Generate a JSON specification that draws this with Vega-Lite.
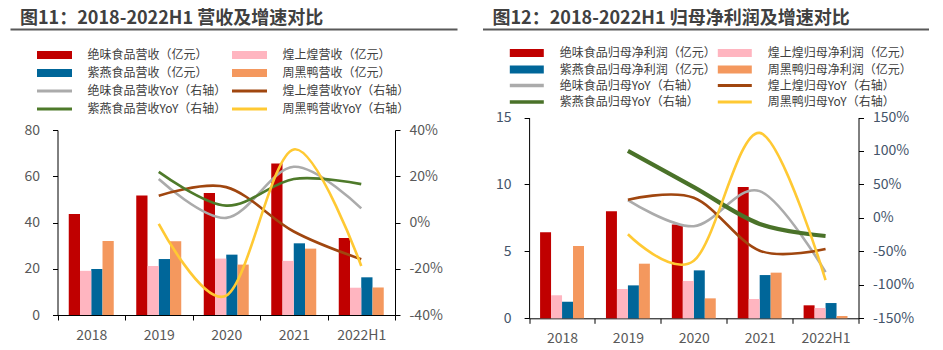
{
  "$schema": "https://vega.github.io/schema/vega-lite/v6.json",
  "padding": {"left": 10, "top": 10, "right": 0, "bottom": 0},
  "background": "white",
  "config": {
    "view": {"stroke": null},
    "font": "Noto Sans CJK SC",
    "axis": {"labelFont": "Noto Sans CJK SC", "labelFontSize": 14, "labelColor": "#595959", "domainColor": "#000000", "tickColor": "#000000", "grid": false, "title": null, "tickSize": 5},
    "legend": {"labelFont": "Noto Sans CJK SC", "labelFontSize": 12, "labelColor": "#404040", "title": null, "padding": 0, "labelLimit": 400, "orient": "none", "columns": 1, "direction": "vertical", "symbolSize": 100, "symbolStrokeWidth": 0, "symbolOffset": 11.5, "labelOffset": 27},
    "title": {"anchor": "start", "frame": "group", "dx": 10, "offset": 1, "fontSize": 18, "fontWeight": "bold", "color": "#404040", "font": "Noto Sans CJK SC"}
  },
  "datasets": {
    "revBars": [
      {"year": "2018", "s": "绝味食品营收（亿元）", "v": 43.7},
      {"year": "2018", "s": "煌上煌营收（亿元）", "v": 19.1},
      {"year": "2018", "s": "紫燕食品营收（亿元）", "v": 19.9},
      {"year": "2018", "s": "周黑鸭营收（亿元）", "v": 32.0},
      {"year": "2019", "s": "绝味食品营收（亿元）", "v": 51.7},
      {"year": "2019", "s": "煌上煌营收（亿元）", "v": 21.2},
      {"year": "2019", "s": "紫燕食品营收（亿元）", "v": 24.2},
      {"year": "2019", "s": "周黑鸭营收（亿元）", "v": 31.9},
      {"year": "2020", "s": "绝味食品营收（亿元）", "v": 52.8},
      {"year": "2020", "s": "煌上煌营收（亿元）", "v": 24.4},
      {"year": "2020", "s": "紫燕食品营收（亿元）", "v": 26.1},
      {"year": "2020", "s": "周黑鸭营收（亿元）", "v": 21.8},
      {"year": "2021", "s": "绝味食品营收（亿元）", "v": 65.5},
      {"year": "2021", "s": "煌上煌营收（亿元）", "v": 23.4},
      {"year": "2021", "s": "紫燕食品营收（亿元）", "v": 31.0},
      {"year": "2021", "s": "周黑鸭营收（亿元）", "v": 28.7},
      {"year": "2022H1", "s": "绝味食品营收（亿元）", "v": 33.3},
      {"year": "2022H1", "s": "煌上煌营收（亿元）", "v": 11.8},
      {"year": "2022H1", "s": "紫燕食品营收（亿元）", "v": 16.3},
      {"year": "2022H1", "s": "周黑鸭营收（亿元）", "v": 11.9}
    ],
    "revLines": [
      {"year": "2019", "s": "绝味食品营收YoY（右轴）", "v": 0.188},
      {"year": "2020", "s": "绝味食品营收YoY（右轴）", "v": 0.020},
      {"year": "2021", "s": "绝味食品营收YoY（右轴）", "v": 0.241},
      {"year": "2022H1", "s": "绝味食品营收YoY（右轴）", "v": 0.061},
      {"year": "2019", "s": "煌上煌营收YoY（右轴）", "v": 0.116},
      {"year": "2020", "s": "煌上煌营收YoY（右轴）", "v": 0.153},
      {"year": "2021", "s": "煌上煌营收YoY（右轴）", "v": -0.039},
      {"year": "2022H1", "s": "煌上煌营收YoY（右轴）", "v": -0.159},
      {"year": "2019", "s": "紫燕食品营收YoY（右轴）", "v": 0.219},
      {"year": "2020", "s": "紫燕食品营收YoY（右轴）", "v": 0.073},
      {"year": "2021", "s": "紫燕食品营收YoY（右轴）", "v": 0.188},
      {"year": "2022H1", "s": "紫燕食品营收YoY（右轴）", "v": 0.166},
      {"year": "2019", "s": "周黑鸭营收YoY（右轴）", "v": -0.006},
      {"year": "2020", "s": "周黑鸭营收YoY（右轴）", "v": -0.316},
      {"year": "2021", "s": "周黑鸭营收YoY（右轴）", "v": 0.316},
      {"year": "2022H1", "s": "周黑鸭营收YoY（右轴）", "v": -0.188}
    ],
    "npBars": [
      {"year": "2018", "s": "绝味食品归母净利润（亿元）", "v": 6.42},
      {"year": "2018", "s": "煌上煌归母净利润（亿元）", "v": 1.72},
      {"year": "2018", "s": "紫燕食品归母净利润（亿元）", "v": 1.24},
      {"year": "2018", "s": "周黑鸭归母净利润（亿元）", "v": 5.40},
      {"year": "2019", "s": "绝味食品归母净利润（亿元）", "v": 7.99},
      {"year": "2019", "s": "煌上煌归母净利润（亿元）", "v": 2.19},
      {"year": "2019", "s": "紫燕食品归母净利润（亿元）", "v": 2.46},
      {"year": "2019", "s": "周黑鸭归母净利润（亿元）", "v": 4.08},
      {"year": "2020", "s": "绝味食品归母净利润（亿元）", "v": 7.01},
      {"year": "2020", "s": "煌上煌归母净利润（亿元）", "v": 2.79},
      {"year": "2020", "s": "紫燕食品归母净利润（亿元）", "v": 3.58},
      {"year": "2020", "s": "周黑鸭归母净利润（亿元）", "v": 1.49},
      {"year": "2021", "s": "绝味食品归母净利润（亿元）", "v": 9.81},
      {"year": "2021", "s": "煌上煌归母净利润（亿元）", "v": 1.44},
      {"year": "2021", "s": "紫燕食品归母净利润（亿元）", "v": 3.23},
      {"year": "2021", "s": "周黑鸭归母净利润（亿元）", "v": 3.41},
      {"year": "2022H1", "s": "绝味食品归母净利润（亿元）", "v": 0.97},
      {"year": "2022H1", "s": "煌上煌归母净利润（亿元）", "v": 0.77},
      {"year": "2022H1", "s": "紫燕食品归母净利润（亿元）", "v": 1.14},
      {"year": "2022H1", "s": "周黑鸭归母净利润（亿元）", "v": 0.17}
    ],
    "npLines": [
      {"year": "2019", "s": "绝味食品归母YoY（右轴）", "v": 0.266},
      {"year": "2020", "s": "绝味食品归母YoY（右轴）", "v": -0.124},
      {"year": "2021", "s": "绝味食品归母YoY（右轴）", "v": 0.40},
      {"year": "2022H1", "s": "绝味食品归母YoY（右轴）", "v": -0.81},
      {"year": "2019", "s": "煌上煌归母YoY（右轴）", "v": 0.27},
      {"year": "2020", "s": "煌上煌归母YoY（右轴）", "v": 0.30},
      {"year": "2021", "s": "煌上煌归母YoY（右轴）", "v": -0.49},
      {"year": "2022H1", "s": "煌上煌归母YoY（右轴）", "v": -0.465},
      {"year": "2019", "s": "紫燕食品归母YoY（右轴）", "v": 1.00},
      {"year": "2020", "s": "紫燕食品归母YoY（右轴）", "v": 0.46},
      {"year": "2021", "s": "紫燕食品归母YoY（右轴）", "v": -0.09},
      {"year": "2022H1", "s": "紫燕食品归母YoY（右轴）", "v": -0.27},
      {"year": "2019", "s": "周黑鸭归母YoY（右轴）", "v": -0.245},
      {"year": "2020", "s": "周黑鸭归母YoY（右轴）", "v": -0.64},
      {"year": "2021", "s": "周黑鸭归母YoY（右轴）", "v": 1.27},
      {"year": "2022H1", "s": "周黑鸭归母YoY（右轴）", "v": -0.93}
    ],
    "rule": [{"u": 0}, {"u": 1}]
  },
  "spacing": 25.5,
  "hconcat": [
    {
      "width": 447,
      "height": 286,
      "title": "图11：2018-2022H1 营收及增速对比",
      "resolve": {"scale": {"x": "independent", "xOffset": "independent", "y": "independent", "color": "independent", "strokeWidth": "independent"}},
      "layer": [
        {
          "data": {"name": "rule"},
          "mark": {"type": "point", "opacity": 0, "size": 0},
          "encoding": {
            "x": {"field": "u", "type": "quantitative", "scale": {"domain": [0, 1]}, "axis": {"orient": "top", "domain": true, "domainColor": "#595959", "domainWidth": 2, "ticks": false, "labels": false, "title": null}}
          }
        },
        {
          "data": {"name": "revBars"},
          "transform": [{"filter": {"field": "s", "oneOf": ["绝味食品营收（亿元）", "紫燕食品营收（亿元）"]}}],
          "mark": {"type": "bar"},
          "encoding": {
            "x": {"field": "year", "type": "nominal", "scale": {"domain": ["2018", "2019", "2020", "2021", "2022H1"], "range": [47.5, 385], "paddingInner": 0, "paddingOuter": 0}, "axis": {"orient": "bottom", "labelAngle": 0, "tickBand": "extent", "labelPadding": 8, "tickSize": 5}},
            "xOffset": {"field": "s", "type": "nominal", "scale": {"domain": ["绝味食品营收（亿元）", "煌上煌营收（亿元）", "紫燕食品营收（亿元）", "周黑鸭营收（亿元）"], "range": [0, 67.5], "paddingInner": 0, "paddingOuter": 1.07}},
            "y": {"field": "v", "type": "quantitative", "scale": {"domain": [0, 80], "range": [286, 101]}, "axis": {"orient": "left", "offset": -47.5, "values": [0, 20, 40, 60, 80], "labelPadding": 13}},
            "color": {"field": "s", "type": "nominal", "scale": {"domain": ["绝味食品营收（亿元）", "紫燕食品营收（亿元）"], "range": ["#C00000", "#006699"]},
              "legend": {"legendX": 27, "legendY": 20, "rowPadding": 6, "symbolType": "M-3.5,-0.8L3.5,-0.8L3.5,0.8L-3.5,0.8Z"}}
          }
        },
        {
          "data": {"name": "revBars"},
          "transform": [{"filter": {"field": "s", "oneOf": ["煌上煌营收（亿元）", "周黑鸭营收（亿元）"]}}],
          "mark": {"type": "bar"},
          "encoding": {
            "x": {"field": "year", "type": "nominal", "scale": {"domain": ["2018", "2019", "2020", "2021", "2022H1"], "range": [47.5, 385], "paddingInner": 0, "paddingOuter": 0}, "axis": null},
            "xOffset": {"field": "s", "type": "nominal", "scale": {"domain": ["绝味食品营收（亿元）", "煌上煌营收（亿元）", "紫燕食品营收（亿元）", "周黑鸭营收（亿元）"], "range": [0, 67.5], "paddingInner": 0, "paddingOuter": 1.07}},
            "y": {"field": "v", "type": "quantitative", "scale": {"domain": [0, 80], "range": [286, 101]}, "axis": null},
            "color": {"field": "s", "type": "nominal", "scale": {"domain": ["煌上煌营收（亿元）", "周黑鸭营收（亿元）"], "range": ["#FFB5C0", "#F4985E"]},
              "legend": {"legendX": 222, "legendY": 20, "rowPadding": 6, "symbolType": "M-3.5,-0.8L3.5,-0.8L3.5,0.8L-3.5,0.8Z"}}
          }
        },
        {
          "data": {"name": "revLines"},
          "transform": [{"filter": {"field": "s", "oneOf": ["绝味食品营收YoY（右轴）", "紫燕食品营收YoY（右轴）"]}}],
          "mark": {"type": "bar"},
          "encoding": {
            "x": {"field": "year", "type": "nominal", "scale": {"domain": ["2018", "2019", "2020", "2021", "2022H1"], "range": [47.5, 385], "paddingInner": 0, "paddingOuter": 0}, "axis": null},
            "y": {"field": "v", "type": "quantitative", "scale": {"domain": [-0.4, 0.4], "range": [286, 101]}, "axis": null},
            "y2": {"field": "v"},
            "color": {"field": "s", "type": "nominal", "scale": {"domain": ["绝味食品营收YoY（右轴）", "紫燕食品营收YoY（右轴）"], "range": ["#ABABAB", "#4E7A2A"]},
              "legend": {"legendX": 27, "legendY": 56, "rowPadding": 6, "symbolType": "M-3.5,-0.28L3.5,-0.28L3.5,0.28L-3.5,0.28Z"}}
          }
        },
        {
          "data": {"name": "revLines"},
          "transform": [{"filter": {"field": "s", "oneOf": ["煌上煌营收YoY（右轴）", "周黑鸭营收YoY（右轴）"]}}],
          "mark": {"type": "bar"},
          "encoding": {
            "x": {"field": "year", "type": "nominal", "scale": {"domain": ["2018", "2019", "2020", "2021", "2022H1"], "range": [47.5, 385], "paddingInner": 0, "paddingOuter": 0}, "axis": null},
            "y": {"field": "v", "type": "quantitative", "scale": {"domain": [-0.4, 0.4], "range": [286, 101]}, "axis": null},
            "y2": {"field": "v"},
            "color": {"field": "s", "type": "nominal", "scale": {"domain": ["煌上煌营收YoY（右轴）", "周黑鸭营收YoY（右轴）"], "range": ["#A0460F", "#FFC933"]},
              "legend": {"legendX": 222, "legendY": 56, "rowPadding": 6, "symbolType": "M-3.5,-0.28L3.5,-0.28L3.5,0.28L-3.5,0.28Z"}}
          }
        },
        {
          "data": {"name": "revLines"},
          "mark": {"type": "line", "interpolate": "cardinal", "strokeWidth": 2.6},
          "encoding": {
            "x": {"field": "year", "type": "nominal", "scale": {"domain": ["2018", "2019", "2020", "2021", "2022H1"], "range": [47.5, 385], "paddingInner": 0, "paddingOuter": 0}, "axis": null},
            "y": {"field": "v", "type": "quantitative", "scale": {"domain": [-0.4, 0.4], "range": [286, 101]}, "axis": {"orient": "right", "offset": -62, "values": [-0.4, -0.2, 0, 0.2, 0.4], "labelPadding": 9, "labelExpr": "(datum.value < -0.0001 ? '-' : '') + format(abs(datum.value), '.0%')"}},
            "color": {"field": "s", "type": "nominal", "scale": {"domain": ["绝味食品营收YoY（右轴）", "煌上煌营收YoY（右轴）", "紫燕食品营收YoY（右轴）", "周黑鸭营收YoY（右轴）"], "range": ["#ABABAB", "#A0460F", "#4E7A2A", "#FFC933"]}, "legend": null}
          }
        }
      ]
    },
    {
      "width": 446.3,
      "height": 289.3,
      "title": "图12：2018-2022H1 归母净利润及增速对比",
      "resolve": {"scale": {"x": "independent", "xOffset": "independent", "y": "independent", "color": "independent", "strokeWidth": "independent"}},
      "layer": [
        {
          "data": {"name": "rule"},
          "mark": {"type": "point", "opacity": 0, "size": 0},
          "encoding": {
            "x": {"field": "u", "type": "quantitative", "scale": {"domain": [0, 1]}, "axis": {"orient": "top", "domain": true, "domainColor": "#595959", "domainWidth": 2, "ticks": false, "labels": false, "title": null}}
          }
        },
        {
          "data": {"name": "npBars"},
          "transform": [{"filter": {"field": "s", "oneOf": ["绝味食品归母净利润（亿元）", "紫燕食品归母净利润（亿元）"]}}],
          "mark": {"type": "bar"},
          "encoding": {
            "x": {"field": "year", "type": "nominal", "scale": {"domain": ["2018", "2019", "2020", "2021", "2022H1"], "range": [46.6, 376], "paddingInner": 0, "paddingOuter": 0}, "axis": {"orient": "bottom", "labelAngle": 0, "tickBand": "extent", "labelPadding": 8, "tickSize": 5}},
            "xOffset": {"field": "s", "type": "nominal", "scale": {"domain": ["绝味食品归母净利润（亿元）", "煌上煌归母净利润（亿元）", "紫燕食品归母净利润（亿元）", "周黑鸭归母净利润（亿元）"], "range": [0, 65.88], "paddingInner": 0, "paddingOuter": 1.09}},
            "y": {"field": "v", "type": "quantitative", "scale": {"domain": [0, 15], "range": [289.3, 88.5]}, "axis": {"orient": "left", "offset": -46.6, "values": [0, 5, 10, 15], "labelPadding": 13, "labelColor": "#44546A"}},
            "color": {"field": "s", "type": "nominal", "scale": {"domain": ["绝味食品归母净利润（亿元）", "紫燕食品归母净利润（亿元）"], "range": ["#C00000", "#006699"]},
              "legend": {"legendX": 27.3, "legendY": 18, "rowPadding": 4.5, "symbolType": "M-3.4,-0.8L3.4,-0.8L3.4,0.8L-3.4,0.8Z", "symbolOffset": 11}}
          }
        },
        {
          "data": {"name": "npBars"},
          "transform": [{"filter": {"field": "s", "oneOf": ["煌上煌归母净利润（亿元）", "周黑鸭归母净利润（亿元）"]}}],
          "mark": {"type": "bar"},
          "encoding": {
            "x": {"field": "year", "type": "nominal", "scale": {"domain": ["2018", "2019", "2020", "2021", "2022H1"], "range": [46.6, 376], "paddingInner": 0, "paddingOuter": 0}, "axis": null},
            "xOffset": {"field": "s", "type": "nominal", "scale": {"domain": ["绝味食品归母净利润（亿元）", "煌上煌归母净利润（亿元）", "紫燕食品归母净利润（亿元）", "周黑鸭归母净利润（亿元）"], "range": [0, 65.88], "paddingInner": 0, "paddingOuter": 1.09}},
            "y": {"field": "v", "type": "quantitative", "scale": {"domain": [0, 15], "range": [289.3, 88.5]}, "axis": null},
            "color": {"field": "s", "type": "nominal", "scale": {"domain": ["煌上煌归母净利润（亿元）", "周黑鸭归母净利润（亿元）"], "range": ["#FFB5C0", "#F4985E"]},
              "legend": {"legendX": 235.3, "legendY": 18, "rowPadding": 4.5, "symbolType": "M-3.4,-0.8L3.4,-0.8L3.4,0.8L-3.4,0.8Z", "symbolOffset": 11}}
          }
        },
        {
          "data": {"name": "npLines"},
          "transform": [{"filter": {"field": "s", "oneOf": ["绝味食品归母YoY（右轴）", "紫燕食品归母YoY（右轴）"]}}],
          "mark": {"type": "bar"},
          "encoding": {
            "x": {"field": "year", "type": "nominal", "scale": {"domain": ["2018", "2019", "2020", "2021", "2022H1"], "range": [46.6, 376], "paddingInner": 0, "paddingOuter": 0}, "axis": null},
            "y": {"field": "v", "type": "quantitative", "scale": {"domain": [-1.5, 1.5], "range": [289.3, 88.5]}, "axis": null},
            "y2": {"field": "v"},
            "color": {"field": "s", "type": "nominal", "scale": {"domain": ["绝味食品归母YoY（右轴）", "紫燕食品归母YoY（右轴）"], "range": ["#ABABAB", "#4A7229"]},
              "legend": {"legendX": 27.3, "legendY": 50.5, "rowPadding": 4.5, "symbolType": "M-3.4,-0.34L3.4,-0.34L3.4,0.34L-3.4,0.34Z", "symbolOffset": 11}}
          }
        },
        {
          "data": {"name": "npLines"},
          "transform": [{"filter": {"field": "s", "oneOf": ["煌上煌归母YoY（右轴）", "周黑鸭归母YoY（右轴）"]}}],
          "mark": {"type": "bar"},
          "encoding": {
            "x": {"field": "year", "type": "nominal", "scale": {"domain": ["2018", "2019", "2020", "2021", "2022H1"], "range": [46.6, 376], "paddingInner": 0, "paddingOuter": 0}, "axis": null},
            "y": {"field": "v", "type": "quantitative", "scale": {"domain": [-1.5, 1.5], "range": [289.3, 88.5]}, "axis": null},
            "y2": {"field": "v"},
            "color": {"field": "s", "type": "nominal", "scale": {"domain": ["煌上煌归母YoY（右轴）", "周黑鸭归母YoY（右轴）"], "range": ["#A0460F", "#FFC933"]},
              "legend": {"legendX": 235.3, "legendY": 50.5, "rowPadding": 4.5, "symbolType": "M-3.4,-0.28L3.4,-0.28L3.4,0.28L-3.4,0.28Z", "symbolOffset": 11}}
          }
        },
        {
          "data": {"name": "npLines"},
          "mark": {"type": "line", "interpolate": "cardinal"},
          "encoding": {
            "x": {"field": "year", "type": "nominal", "scale": {"domain": ["2018", "2019", "2020", "2021", "2022H1"], "range": [46.6, 376], "paddingInner": 0, "paddingOuter": 0}, "axis": null},
            "y": {"field": "v", "type": "quantitative", "scale": {"domain": [-1.5, 1.5], "range": [289.3, 88.5]}, "axis": {"orient": "right", "offset": -70.3, "values": [-1.5, -1, -0.5, 0, 0.5, 1, 1.5], "labelPadding": 9, "labelColor": "#44546A", "labelExpr": "(datum.value < -0.0001 ? '-' : '') + format(abs(datum.value), '.0%')"}},
            "color": {"field": "s", "type": "nominal", "scale": {"domain": ["绝味食品归母YoY（右轴）", "煌上煌归母YoY（右轴）", "紫燕食品归母YoY（右轴）", "周黑鸭归母YoY（右轴）"], "range": ["#ABABAB", "#A0460F", "#4A7229", "#FFC933"]}, "legend": null},
            "strokeWidth": {"field": "s", "type": "nominal", "scale": {"type": "ordinal", "domain": ["绝味食品归母YoY（右轴）", "煌上煌归母YoY（右轴）", "紫燕食品归母YoY（右轴）", "周黑鸭归母YoY（右轴）"], "range": [2.6, 2.6, 4.2, 2.6]}, "legend": null}
          }
        }
      ]
    }
  ]
}
